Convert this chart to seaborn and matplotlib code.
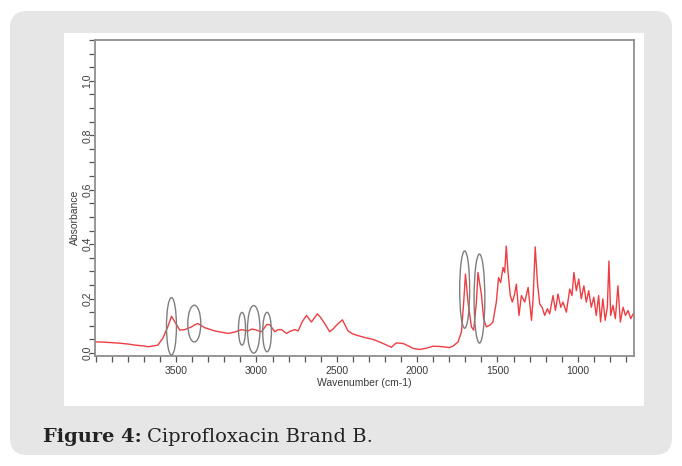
import numpy as np
import pandas as pd
import matplotlib
matplotlib.use("Agg")
import matplotlib.pyplot as plt
from matplotlib.patches import Ellipse, FancyBboxPatch, Rectangle
import seaborn as sns

# ---- data ----
wavenumber = [4005, 3950, 3900, 3850, 3800, 3757, 3700, 3676, 3640, 3614,
              3583, 3552, 3529, 3508, 3477, 3446, 3404, 3380, 3363, 3322,
              3259, 3177, 3135, 3093, 3052, 3030, 3010, 2969, 2935, 2917,
              2886, 2865, 2844, 2813, 2790, 2761, 2741, 2715, 2689, 2658,
              2621, 2600, 2575, 2544, 2520, 2502, 2465, 2430, 2400, 2357,
              2320, 2275, 2240, 2212, 2160, 2140, 2129, 2088, 2050, 2026,
              1984, 1940, 1901, 1860, 1839, 1800, 1777, 1745, 1724, 1710,
              1699, 1683, 1662, 1648, 1631, 1621, 1610, 1600, 1586, 1569,
              1548, 1528, 1507, 1493, 1480, 1465, 1455, 1445, 1434, 1420,
              1407, 1393, 1382, 1366, 1351, 1330, 1309, 1288, 1278, 1265,
              1251, 1237, 1222, 1206, 1189, 1175, 1154, 1139, 1123, 1106,
              1092, 1071, 1050, 1036, 1024, 1009, 994, 978, 962, 947,
              932, 916, 900, 885, 870, 858, 844, 829, 816, 806,
              795, 781, 766, 750, 735, 718, 703, 687, 670, 655]
absorbance = [0.041, 0.040, 0.038, 0.036, 0.033, 0.029, 0.026, 0.023, 0.026, 0.029,
              0.054, 0.096, 0.135, 0.114, 0.084, 0.086, 0.096, 0.105, 0.108, 0.093,
              0.081, 0.072, 0.077, 0.086, 0.081, 0.088, 0.086, 0.078, 0.105, 0.104,
              0.078, 0.086, 0.086, 0.072, 0.080, 0.086, 0.081, 0.115, 0.138, 0.114,
              0.144, 0.130, 0.108, 0.078, 0.090, 0.102, 0.122, 0.081, 0.070, 0.062,
              0.056, 0.050, 0.042, 0.035, 0.021, 0.032, 0.037, 0.035, 0.025, 0.017,
              0.013, 0.018, 0.025, 0.024, 0.023, 0.020, 0.025, 0.041, 0.078, 0.187,
              0.290, 0.187, 0.096, 0.084, 0.187, 0.296, 0.253, 0.217, 0.126, 0.096,
              0.102, 0.114, 0.187, 0.277, 0.259, 0.314, 0.296, 0.393, 0.296, 0.211,
              0.187, 0.217, 0.253, 0.138, 0.211, 0.187, 0.241, 0.120, 0.200, 0.390,
              0.259, 0.180, 0.168, 0.138, 0.163, 0.144, 0.211, 0.156, 0.217, 0.168,
              0.187, 0.150, 0.235, 0.211, 0.296, 0.229, 0.272, 0.199, 0.247, 0.187,
              0.229, 0.168, 0.205, 0.138, 0.211, 0.114, 0.199, 0.120, 0.168, 0.338,
              0.138, 0.175, 0.126, 0.247, 0.114, 0.168, 0.138, 0.156, 0.126, 0.144]

# highlighted bands (centre wavenumber, centre absorbance, width, height)
ell_wn = [3529, 3387, 3090, 3017, 2934, 1704, 1612]
ell_y = [0.098, 0.108, 0.089, 0.087, 0.077, 0.233, 0.200]
ell_w = [62, 81, 44, 78, 54, 62, 67]
ell_h = [0.211, 0.135, 0.120, 0.175, 0.145, 0.284, 0.327]

y_ticks = [0.0, 0.2, 0.4, 0.6, 0.8, 1.0]
y_ticklabels = ["0.0", "0.2", "0.4", "0.6", "0.8", "1.0"]
x_ticks = [3500, 3000, 2500, 2000, 1500, 1000]
x_ticklabels = ["3500", "3000", "2500", "2000", "1500", "1000"]

df = pd.DataFrame({"Wavenumber": wavenumber, "Absorbance": absorbance})

sns.set_theme(style="white")
plt.rcParams["font.family"] = ["Liberation Sans", "DejaVu Sans"]

W, H = 682, 466
fig = plt.figure(figsize=(W / 100, H / 100), dpi=100)
fig.patch.set_facecolor("white")

# grey rounded panel
panel = FancyBboxPatch((10 / W, 11 / H), 662 / W, 444 / H,
                       boxstyle="round,pad=0,rounding_size=0.025",
                       transform=fig.transFigure, facecolor="#e6e6e6",
                       edgecolor="none", zorder=0, mutation_aspect=W / H)
fig.patches.append(panel)
# white image area
fig.patches.append(Rectangle((64 / W, 1 - 406 / H), 580 / W, 373 / H,
                             transform=fig.transFigure, facecolor="white",
                             edgecolor="none", zorder=1))

ax = fig.add_axes([95 / W, 1 - 356 / H, (634 - 95) / W, (356 - 40) / H])
ax.set_zorder(2)
ax.patch.set_facecolor("white")

sns.lineplot(data=df, x="Wavenumber", y="Absorbance", ax=ax, estimator=None,
             color="#ec2a2e", linewidth=1.0, alpha=0.9)

for cx, cy, w, h in zip(ell_wn, ell_y, ell_w, ell_h):
    ax.add_patch(Ellipse((cx, cy), w, h, fill=False, edgecolor="#7e7e7e",
                         linewidth=1.0, zorder=3))

ax.set_xlim(4005, 650)
ax.set_ylim(-0.011, 1.138)

ax.set_xticks(x_ticks)
ax.set_xticklabels(x_ticklabels)
ax.set_xticks(np.arange(700, 4001, 100), minor=True)
ax.set_yticks(y_ticks)
ax.set_yticklabels(y_ticklabels, rotation=90, va="center")
ax.set_yticks(np.arange(0, 1.151, 0.05), minor=True)

tc = "#3a3a3a"
ax.tick_params(axis="both", which="both", direction="out", length=4.5,
               width=0.9, color="#555555", labelsize=7.5, labelcolor=tc,
               bottom=True, left=True, top=False, right=False)
ax.tick_params(axis="x", which="major", pad=3)
ax.tick_params(axis="y", which="major", pad=-2.5)

for s in ax.spines.values():
    s.set_color("#8f8f8f")
    s.set_linewidth(1.3)

ax.set_xlabel("Wavenumber (cm-1)", fontsize=7.5, color=tc, labelpad=1)
ax.set_ylabel("Absorbance", fontsize=7.5, color=tc)
ax.yaxis.set_label_coords(-0.027, 0.44)

# caption
t1 = fig.text(43 / W, 1 - 437 / H, "Figure 4:", fontsize=14, fontweight="bold",
              family=["DejaVu Serif"], color="#222222", va="center", ha="left")
fig.canvas.draw()
bb = t1.get_window_extent(renderer=fig.canvas.get_renderer())
fig.text((bb.x1 + 5) / W, 1 - 437 / H, "Ciprofloxacin Brand B.", fontsize=14,
         family=["DejaVu Serif"], color="#222222", va="center", ha="left")

fig.savefig("out.png", dpi=100, facecolor="white")
